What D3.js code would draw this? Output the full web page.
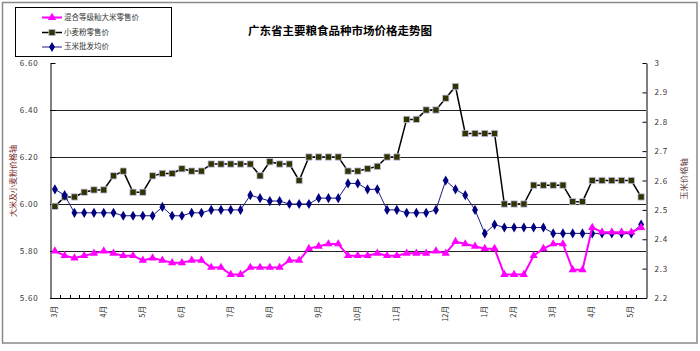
<!DOCTYPE html>
<html><head><meta charset="utf-8">
<script src="https://cdn.jsdelivr.net/npm/d3@7"></script>
<style>body{margin:0;background:#fff}svg{display:block}text{font-family:"Noto Sans CJK SC","Liberation Sans",sans-serif}</style>
</head><body><svg id="c" width="700" height="351"></svg>
<script>
const title = "广东省主要粮食品种市场价格走势图";
const seriesNames = ["混合等级籼大米零售价", "小麦粉零售价", "玉米批发均价"];
const categories = ["3月","","","","","4月","","","","5月","","","","6月","","","","","7月","","","","8月","","","","","9月","","","","10月","","","","11月","","","","","12月","","","","1月","","","2月","","","","3月","","","","4月","","","","5月",""];
const riceValues = [5.80,5.78,5.77,5.78,5.79,5.80,5.79,5.78,5.78,5.76,5.77,5.76,5.75,5.75,5.76,5.76,5.73,5.73,5.70,5.70,5.73,5.73,5.73,5.73,5.76,5.76,5.81,5.82,5.83,5.83,5.78,5.78,5.78,5.79,5.78,5.78,5.79,5.79,5.79,5.80,5.79,5.84,5.83,5.82,5.81,5.81,5.70,5.70,5.70,5.78,5.81,5.83,5.83,5.72,5.72,5.90,5.88,5.88,5.88,5.88,5.90];
const flourValues = [5.99,6.03,6.03,6.05,6.06,6.06,6.12,6.14,6.05,6.05,6.12,6.13,6.13,6.15,6.14,6.14,6.17,6.17,6.17,6.17,6.17,6.12,6.18,6.17,6.17,6.10,6.20,6.20,6.20,6.20,6.14,6.14,6.15,6.16,6.20,6.20,6.36,6.36,6.40,6.40,6.45,6.50,6.30,6.30,6.30,6.30,6.00,6.00,6.00,6.08,6.08,6.08,6.08,6.01,6.01,6.10,6.10,6.10,6.10,6.10,6.03];
const cornValues = [2.57,2.55,2.49,2.49,2.49,2.49,2.49,2.48,2.48,2.48,2.48,2.51,2.48,2.48,2.49,2.49,2.50,2.50,2.50,2.50,2.55,2.54,2.53,2.53,2.52,2.52,2.52,2.54,2.54,2.54,2.59,2.59,2.57,2.57,2.50,2.50,2.49,2.49,2.49,2.50,2.60,2.57,2.55,2.50,2.42,2.45,2.44,2.44,2.44,2.44,2.44,2.42,2.42,2.42,2.42,2.42,2.42,2.42,2.42,2.42,2.45];
const leftTicks = [5.6,5.8,6.0,6.2,6.4,6.6];
const rightTicks = [2.2,2.3,2.4,2.5,2.6,2.7,2.8,2.9,3.0];
const leftTitle = "大米及小麦粉价格轴";
const rightTitle = "玉米价格轴";

const svg = d3.select("#c");
const L = 50, R = 646, T = 63, B = 298;
const x = d3.scaleBand().domain(d3.range(categories.length)).range([L, R]);
const yL = d3.scaleLinear().domain([5.6, 6.6]).range([B, T]);
const yR = d3.scaleLinear().domain([2.2, 3.0]).range([B, T]);
const cx = i => x(i) + x.bandwidth() / 2;

// outer border
svg.append("rect").attr("x", 2.5).attr("y", 2.5).attr("width", 694.5).attr("height", 340.5)
  .attr("fill", "#fff").attr("stroke", "#8a8a8a").attr("stroke-width", 1.5);

// gridlines
svg.append("g").selectAll("line").data(leftTicks.filter(v => v > 5.61 && v < 6.59)).join("line")
  .attr("x1", L).attr("x2", R).attr("y1", d => Math.round(yL(d)) + 0.5).attr("y2", d => Math.round(yL(d)) + 0.5)
  .attr("stroke", "#222").attr("stroke-width", 1);

// left axis
const gl = svg.append("g").attr("transform", `translate(${L + 0.5},0)`)
  .call(d3.axisLeft(yL).tickValues(leftTicks).tickFormat(d3.format(".2f")).tickSizeInner(-5).tickSizeOuter(0).tickPadding(12));
gl.select(".domain").attr("stroke", "#000");
gl.selectAll(".tick line").attr("stroke", "#000");
gl.selectAll("text").attr("font-family", "Liberation Sans").attr("font-size", 8).attr("fill", "#333").attr("letter-spacing", 0.8);

// right axis
const gr = svg.append("g").attr("transform", `translate(${R + 0.5},0)`)
  .call(d3.axisRight(yR).tickValues(rightTicks).tickFormat(d => d3.format(".1f")(d).replace(/\.0$/, "")).tickSizeInner(-4).tickSizeOuter(0).tickPadding(8));
gr.select(".domain").attr("stroke", "#000");
gr.selectAll(".tick line").attr("stroke", "#000");
gr.selectAll("text").attr("font-family", "Liberation Sans").attr("font-size", 8).attr("fill", "#333").attr("letter-spacing", 0.8);

// bottom axis
svg.append("line").attr("x1", L).attr("x2", R + 1).attr("y1", B + 0.5).attr("y2", B + 0.5).attr("stroke", "#000");
svg.append("g").selectAll("line").data(d3.range(1, categories.length)).join("line")
  .attr("x1", i => Math.round(x(i)) + 0.5).attr("x2", i => Math.round(x(i)) + 0.5)
  .attr("y1", B).attr("y2", B - 3).attr("stroke", "#000");
svg.append("g").selectAll("text").data(categories.map((c, i) => ({c, i})).filter(d => d.c)).join("text")
  .attr("transform", d => `translate(${cx(d.i)},306) rotate(-90)`)
  .attr("text-anchor", "end").attr("dominant-baseline", "middle")
  .attr("font-size", 7.5).attr("fill", "#333").text(d => d.c);

// axis titles
svg.append("text").attr("transform", "translate(14,181) rotate(-90)").attr("text-anchor", "middle")
  .attr("dominant-baseline", "middle").attr("font-size", 8).attr("fill", "#7a2a2a").text(leftTitle);
svg.append("text").attr("transform", "translate(685,179) rotate(-90)").attr("text-anchor", "middle")
  .attr("dominant-baseline", "middle").attr("font-size", 8.3).attr("fill", "#6a4a4a").text(rightTitle);

// title
svg.append("text").attr("x", 340).attr("y", 35).attr("text-anchor", "middle")
  .attr("font-size", 11.5).attr("font-weight", "bold").attr("fill", "#000").text(title);

// series
const lineL = d3.line().x((d, i) => cx(i)).y(d => yL(d));
const lineR = d3.line().x((d, i) => cx(i)).y(d => yR(d));
const tri = d3.symbol().type(d3.symbolTriangle).size(30);
const sq = d3.symbol().type(d3.symbolSquare).size(40);
const dia = d3.symbol().type(d3.symbolDiamond).size(30);

svg.append("path").datum(flourValues).attr("d", lineL).attr("fill", "none").attr("stroke", "#000").attr("stroke-width", 1.5);
svg.append("g").selectAll("path").data(flourValues).join("path")
  .attr("transform", (d, i) => `translate(${cx(i)},${yL(d)})`).attr("d", sq)
  .attr("fill", "#333300").attr("stroke", "#c8c8f0").attr("stroke-width", 0.8);

svg.append("path").datum(cornValues).attr("d", lineR).attr("fill", "none").attr("stroke", "#1a1a86").attr("stroke-width", 1);
svg.append("g").selectAll("path").data(cornValues).join("path")
  .attr("transform", (d, i) => `translate(${cx(i)},${yR(d)})`).attr("d", dia)
  .attr("fill", "#000080");

svg.append("path").datum(riceValues).attr("d", lineL).attr("fill", "none").attr("stroke", "#ff00ff").attr("stroke-width", 2);
svg.append("g").selectAll("path").data(riceValues).join("path")
  .attr("transform", (d, i) => `translate(${cx(i)},${yL(d)})`).attr("d", tri)
  .attr("fill", "#ff00ff");

// legend
const lg = svg.append("g");
lg.append("rect").attr("x", 15.5).attr("y", 7.5).attr("width", 156).attr("height", 49).attr("fill", "#fff").attr("stroke", "#000");
const legendRows = [
  {name: seriesNames[0], y: 17.5, color: "#ff00ff", w: 2, sym: tri, fill: "#ff00ff", st: "none"},
  {name: seriesNames[1], y: 32.5, color: "#000", w: 1.5, sym: sq, fill: "#333300", st: "#c8c8f0"},
  {name: seriesNames[2], y: 47, color: "#1a1a86", w: 1, sym: dia, fill: "#000080", st: "none"}
];
legendRows.forEach(r => {
  lg.append("line").attr("x1", 42).attr("x2", 62).attr("y1", r.y).attr("y2", r.y).attr("stroke", r.color).attr("stroke-width", r.w);
  lg.append("path").attr("transform", `translate(52,${r.y})`).attr("d", r.sym).attr("fill", r.fill).attr("stroke", r.st).attr("stroke-width", 0.8);
  lg.append("text").attr("x", 64).attr("y", r.y).attr("dominant-baseline", "middle").attr("font-size", 7.5).attr("fill", "#333").text(r.name);
});
</script></body></html>
